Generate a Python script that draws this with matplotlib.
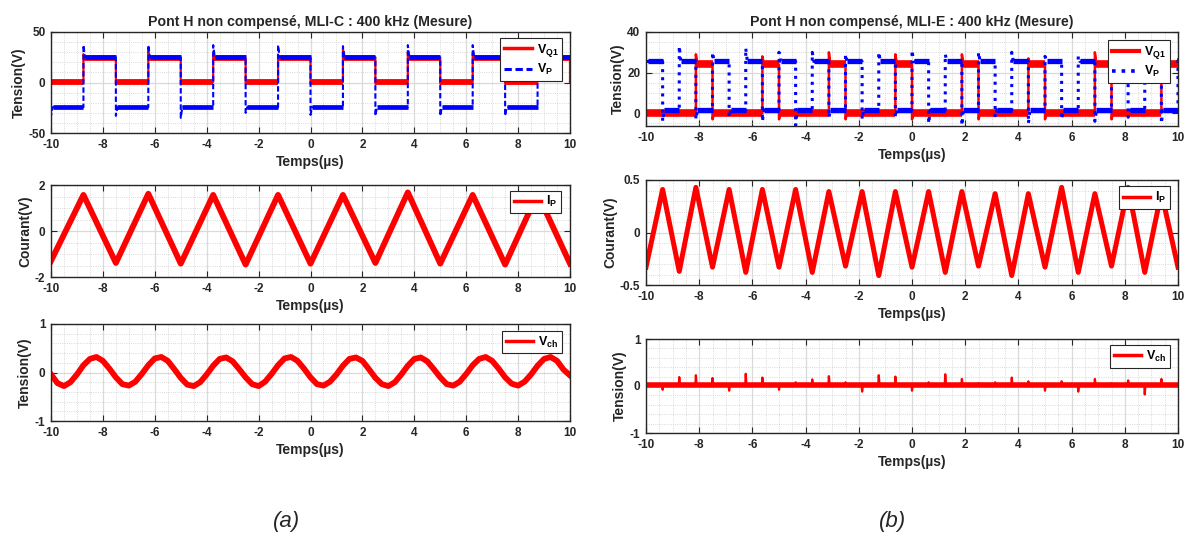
import numpy as np
import matplotlib
matplotlib.use('Agg')
import matplotlib.pyplot as plt
from matplotlib.lines import Line2D
from matplotlib.ticker import MultipleLocator, FormatStrFormatter

plt.rcParams['font.family'] = ['Liberation Sans', 'DejaVu Sans']
plt.rcParams['font.weight'] = 'bold'
plt.rcParams['axes.unicode_minus'] = False
plt.rcParams['mathtext.fontset'] = 'custom'
plt.rcParams['mathtext.rm'] = 'Liberation Sans:bold'
plt.rcParams['mathtext.bf'] = 'Liberation Sans:bold'

ROUGE = '#ff0000'
BLEU = '#0000ff'
GRIS = '#262626'

# ---------------- (a) MLI-C ----------------
# V_Q1 : fronts (µs), niveau apres front, pic du front
vq1_c_debut = 0.5
vq1_c_fronts = [-8.75, -7.5, -6.25, -5.0, -3.75, -2.5, -1.25, 0.0,
                1.25, 2.5, 3.75, 5.0, 6.25, 7.5, 8.75, 10.0]
vq1_c_niveau = [24, 0.5, 24, 0.5, 24, 0.5, 24, 0.5,
                24, 0.5, 24, 0.5, 24, 0.5, 24, 0.5]
vq1_c_pic = [28, -1, 30, -1, 28, -1, 27, -1,
             33, -1, 30, -1, 29, -1, 27, 0.5]

# V_P
vp_c_debut = 10
vp_c_fronts = [-10.0, -8.75, -7.5, -6.25, -5.0, -3.75, -2.5, -1.25, 0.0,
               1.25, 2.5, 3.75, 5.0, 6.25, 7.5, 8.75]
vp_c_niveau = [-24.5, 25, -24.5, 25, -24.5, 25, -24.5, 25, -24.5,
               25, -24.5, 25, -24.5, 25, -24.5, 25]
vp_c_pic = [-33, 37, -33, 37, -35, 37, -30, 37, -32,
            36, -33, 37, -33, 37, -33, 26]

# I_P (triangle)
ip_c_t = [-10.0, -8.75, -7.5, -6.25, -5.0, -3.75, -2.5, -1.25, 0.0,
          1.25, 2.5, 3.75, 5.0, 6.25, 7.5, 8.75, 10.0]
ip_c_v = [-1.3, 1.57, -1.39, 1.62, -1.42, 1.57, -1.46, 1.57, -1.42,
          1.57, -1.39, 1.68, -1.42, 1.57, -1.46, 1.62, -1.42]

# V_ch (pas de 0.25 µs)
vch_c_t = np.arange(-10, 10.01, 0.25)
vch_c_v = [-0.04, -0.22, -0.28, -0.20, -0.04, 0.15, 0.28, 0.32, 0.24, 0.08,
           -0.10, -0.24, -0.27, -0.19, -0.03, 0.15, 0.29, 0.32, 0.24, 0.07,
           -0.11, -0.25, -0.28, -0.20, -0.04, 0.14, 0.28, 0.31, 0.23, 0.07,
           -0.10, -0.24, -0.28, -0.19, -0.03, 0.15, 0.29, 0.32, 0.24, 0.08,
           -0.10, -0.24, -0.27, -0.19, -0.04, 0.14, 0.28, 0.31, 0.24, 0.07,
           -0.11, -0.24, -0.28, -0.20, -0.04, 0.14, 0.28, 0.31, 0.23, 0.07,
           -0.10, -0.24, -0.27, -0.19, -0.03, 0.15, 0.28, 0.32, 0.24, 0.08,
           -0.10, -0.23, -0.27, -0.19, -0.04, 0.14, 0.28, 0.32, 0.24, 0.06,
           -0.06]

# ---------------- (b) MLI-E ----------------
vq1_e_debut = 0.0
vq1_e_fronts = [-8.125, -7.5, -5.625, -5.0, -3.125, -2.5, -0.625, 0.0,
                1.875, 2.5, 4.375, 5.0, 6.875, 7.5, 9.375]
vq1_e_niveau = [24, 0, 24, 0, 24, 0, 24, 0, 24, 0, 24, 0, 24, 0, 24]
vq1_e_pic = [29, -3, 28, -3, 30, -3, 29, -3, 29, -3, 27, -3, 30, -3, 28]

vp_e_debut = 25.5
vp_e_fronts = [-9.375, -8.75, -8.125, -7.5, -6.875, -6.25, -5.625, -5.0,
               -4.375, -3.75, -3.125, -2.5, -1.875, -1.25, -0.625, 0.0,
               0.625, 1.25, 1.875, 2.5, 3.125, 3.75, 4.375, 5.0,
               5.625, 6.25, 6.875, 7.5, 8.125, 8.75, 9.375, 10.0]
vp_e_niveau = [1.5, 25.5] * 16
vp_e_pic = [-4, 33, -3, 30, -2, 32, -4, 30, -6, 30, -2, 29, -3, 30, -2, 31,
            -5, 29, -6, 30, -2, 30, -5, 28, -3, 28, -4, 29, -2, 28, -5, 28]

ip_e_t = [-10.0, -9.375, -8.75, -8.125, -7.5, -6.875, -6.25, -5.625, -5.0,
          -4.375, -3.75, -3.125, -2.5, -1.875, -1.25, -0.625, 0.0,
          0.625, 1.25, 1.875, 2.5, 3.125, 3.75, 4.375, 5.0,
          5.625, 6.25, 6.875, 7.5, 8.125, 8.75, 9.375, 10.0]
ip_e_v = [-0.33, 0.41, -0.37, 0.43, -0.33, 0.41, -0.38, 0.41, -0.33,
          0.41, -0.38, 0.39, -0.32, 0.39, -0.41, 0.39, -0.33,
          0.39, -0.38, 0.39, -0.32, 0.37, -0.41, 0.37, -0.33,
          0.43, -0.38, 0.37, -0.32, 0.43, -0.38, 0.38, -0.33]

vch_e_base = 0.02
vch_e_pics_t = [-9.375, -8.75, -8.125, -7.5, -6.875, -6.25, -5.625, -5.0,
                -4.375, -3.75, -3.125, -2.5, -1.875, -1.25, -0.625, 0.0,
                0.625, 1.25, 1.875, 2.5, 3.125, 3.75, 4.375, 5.0,
                5.625, 6.25, 6.875, 7.5, 8.125, 8.75, 9.375]
vch_e_pics_v = [-0.08, 0.19, 0.23, 0.17, -0.10, 0.26, 0.18, -0.08,
                0.08, 0.14, 0.21, 0.08, -0.12, 0.23, 0.20, -0.10,
                0.08, 0.25, 0.15, 0.06, 0.08, 0.18, 0.10, -0.10,
                0.10, -0.12, 0.15, 0.06, 0.12, -0.18, 0.15]


def trace_carre(debut, fronts, niveaux, pics, t0=-10.0, t1=10.0):
    t, v = [t0], [debut]
    for f, n, p in zip(fronts, niveaux, pics):
        t += [f, f, f + 0.06]
        v += [v[-1], p, n]
    t.append(t1)
    v.append(v[-1])
    return np.array(t), np.array(v)


def paliers(debut, fronts, niveaux, t0=-10.0, t1=10.0):
    deb = [t0] + list(fronts)
    fin = list(fronts) + [t1]
    niv = [debut] + list(niveaux)
    return [(a, b, n) for a, b, n in zip(deb, fin, niv) if b > a]


def trace_pics(base, pics_t, pics_v):
    t, v = [-10.0], [base]
    for a, h in zip(pics_t, pics_v):
        t += [a - 0.02, a, a + 0.03]
        v += [base, h, base]
    t.append(10.0)
    v.append(base)
    return t, v


def habillage(ax, ylim, yticks, ymin, ylabel):
    ax.set_xlim(-10, 10)
    ax.set_ylim(*ylim)
    ax.set_xticks(np.arange(-10, 11, 2))
    ax.set_yticks(yticks)
    ax.yaxis.set_major_formatter(FormatStrFormatter('%g'))
    ax.xaxis.set_minor_locator(MultipleLocator(0.5))
    ax.yaxis.set_minor_locator(MultipleLocator(ymin))
    ax.grid(True, which='major', color='#dadada', lw=0.9)
    ax.grid(True, which='minor', color='#cccccc', lw=0.6, ls=':')
    ax.set_axisbelow(True)
    ax.tick_params(which='major', direction='in', top=True, right=True,
                   length=4, width=0.8, labelsize=8.5, pad=4,
                   colors=GRIS)
    ax.tick_params(which='minor', length=0)
    for s in ax.spines.values():
        s.set_color(GRIS)
        s.set_linewidth(1.0)
    ax.set_xlabel('Temps(µs)', fontsize=10, fontweight='bold', color=GRIS, labelpad=3)
    ax.set_ylabel(ylabel, fontsize=10, fontweight='bold', color=GRIS, labelpad=2)


def legende(ax, poignees, textes, dx, dy):
    leg = ax.legend(poignees, textes, loc='upper right',
                    bbox_to_anchor=(1 - dx, 1 - dy), borderaxespad=0,
                    fontsize=9, frameon=True, fancybox=False,
                    edgecolor=GRIS, framealpha=1, handlelength=2.2,
                    handletextpad=0.4, borderpad=0.3, labelspacing=0.25)
    leg.get_frame().set_linewidth(0.8)


fig = plt.figure(figsize=(11.88, 5.39), dpi=100)
W, H = 1188.0, 539.0


def cadre(x0, x1, y0, y1):
    return fig.add_axes([x0 / W, 1 - y1 / H, (x1 - x0) / W, (y1 - y0) / H])


ax1 = cadre(51, 570, 32, 133)
ax2 = cadre(51, 570, 185, 277)
ax3 = cadre(51, 570, 324, 421)
ax4 = cadre(646, 1178, 32, 126)
ax5 = cadre(646, 1178, 180, 285)
ax6 = cadre(646, 1178, 339, 433)

# --- (a) haut
t, v = trace_carre(vq1_c_debut, vq1_c_fronts, vq1_c_niveau, vq1_c_pic)
ax1.plot(t, v, color=ROUGE, lw=1.6)
for a, b, n in paliers(vq1_c_debut, vq1_c_fronts, vq1_c_niveau):
    ax1.hlines(n, a, b, color=ROUGE, lw=4.2)
t, v = trace_carre(vp_c_debut, vp_c_fronts, vp_c_niveau, vp_c_pic)
ax1.plot(t, v, color=BLEU, lw=1.5, dashes=(2.6, 1.3))
for a, b, n in paliers(vp_c_debut, vp_c_fronts, vp_c_niveau):
    ax1.hlines(n, a + 0.06, b, color=BLEU, lw=3.4)
habillage(ax1, (-50, 50), [-50, 0, 50], 10, 'Tension(V)')
ax1.set_title('Pont H non compensé, MLI-C : 400 kHz (Mesure)', fontsize=10.2,
              fontweight='bold', color=GRIS, pad=4)
legende(ax1, [Line2D([], [], color=ROUGE, lw=2.5),
              Line2D([], [], color=BLEU, lw=2.2, dashes=(2.4, 1.2))],
        ['V$_{\\mathbf{Q1}}$', 'V$_{\\mathbf{P}}$'], 0.015, 0.06)

# --- (a) milieu
ax2.plot(ip_c_t, ip_c_v, color=ROUGE, lw=4.2)
habillage(ax2, (-2, 2), [-2, 0, 2], 0.5, 'Courant(V)')
legende(ax2, [Line2D([], [], color=ROUGE, lw=2.5)], ['I$_{\\mathbf{P}}$'], 0.017, 0.06)

# --- (a) bas
ax3.plot(vch_c_t, vch_c_v, color=ROUGE, lw=4.2)
habillage(ax3, (-1, 1), [-1, 0, 1], 0.2, 'Tension(V)')
legende(ax3, [Line2D([], [], color=ROUGE, lw=2.5)], ['V$_{\\mathbf{ch}}$'], 0.015, 0.07)

# --- (b) haut
t, v = trace_carre(vq1_e_debut, vq1_e_fronts, vq1_e_niveau, vq1_e_pic)
ax4.plot(t, v, color=ROUGE, lw=1.8)
for a, b, n in paliers(vq1_e_debut, vq1_e_fronts, vq1_e_niveau):
    ax4.hlines(n, a, b, color=ROUGE, lw=5.5)
t, v = trace_carre(vp_e_debut, vp_e_fronts, vp_e_niveau, vp_e_pic)
ax4.plot(t, v, color=BLEU, lw=2.2, ls=':')
for a, b, n in paliers(vp_e_debut, vp_e_fronts, vp_e_niveau):
    ax4.hlines(n, a + 0.06, b, color=BLEU, lw=3.8)
habillage(ax4, (-6.3, 40), [0, 20, 40], 5, 'Tension(V)')
ax4.set_title('Pont H non compensé, MLI-E : 400 kHz (Mesure)', fontsize=10.2,
              fontweight='bold', color=GRIS, pad=4)
legende(ax4, [Line2D([], [], color=ROUGE, lw=3.0),
              Line2D([], [], color=BLEU, lw=2.6, ls=':')],
        ['V$_{\\mathbf{Q1}}$', 'V$_{\\mathbf{P}}$'], 0.015, 0.09)

# --- (b) milieu
ax5.plot(ip_e_t, ip_e_v, color=ROUGE, lw=3.6)
habillage(ax5, (-0.5, 0.5), [-0.5, 0, 0.5], 0.1, 'Courant(V)')
legende(ax5, [Line2D([], [], color=ROUGE, lw=2.5)], ['I$_{\\mathbf{P}}$'], 0.015, 0.06)

# --- (b) bas
t, v = trace_pics(vch_e_base, vch_e_pics_t, vch_e_pics_v)
ax6.plot(t, v, color=ROUGE, lw=1.6)
ax6.hlines(vch_e_base, -10, 10, color=ROUGE, lw=4.0)
habillage(ax6, (-1, 1), [-1, 0, 1], 0.2, 'Tension(V)')
legende(ax6, [Line2D([], [], color=ROUGE, lw=2.5)], ['V$_{\\mathbf{ch}}$'], 0.015, 0.065)

fig.text(287 / W, 1 - 522 / H, '(a)', fontsize=16, style='italic',
         fontweight='normal', ha='center', va='center', color=GRIS)
fig.text(893 / W, 1 - 522 / H, '(b)', fontsize=16, style='italic',
         fontweight='normal', ha='center', va='center', color=GRIS)

fig.savefig('out.png', dpi=100)
